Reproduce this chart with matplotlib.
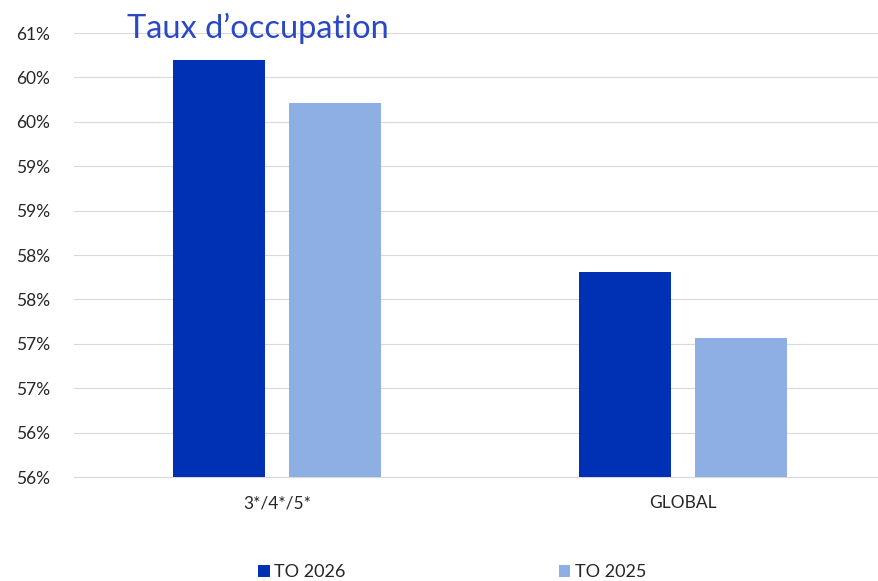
import matplotlib
matplotlib.use("Agg")
import matplotlib.pyplot as plt
import numpy as np
from matplotlib.ticker import FuncFormatter, MultipleLocator
import math

categories = ["3*/4*/5*", "GLOBAL"]
series_names = ["TO 2026", "TO 2025"]
to_2026 = [60.2, 57.81]
to_2025 = [59.71, 57.07]
colors = ["#0030B4", "#8DAFE3"]

plt.rcParams['font.family'] = ['Lato', 'DejaVu Sans']

fig = plt.figure(figsize=(8.79, 5.81), dpi=100)
ax = fig.add_axes([74/879, 1-477/581, (886-74)/879, (477-33)/581])

x = np.arange(len(categories))
w = 0.2266
off = 0.143
b1 = ax.bar(x - off, to_2026, width=w, color=colors[0], label=series_names[0], zorder=3)
b2 = ax.bar(x + off, to_2025, width=w, color=colors[1], label=series_names[1], zorder=3)

ax.set_ylim(55.5, 60.5)
ax.set_xlim(-0.5, 1.5)
ax.yaxis.set_major_locator(MultipleLocator(0.5))
ax.yaxis.set_major_formatter(FuncFormatter(lambda v, p: f"{math.floor(v + 0.5 + 1e-9):d}%"))
ax.grid(axis='y', color='#D9D9D9', linewidth=0.8, zorder=0)
for s in ['top', 'right', 'left']:
    ax.spines[s].set_visible(False)
ax.spines['bottom'].set_color('#D9D9D9')
ax.tick_params(axis='both', length=0, labelsize=12.5, colors='#262626')
ax.tick_params(axis='y', pad=17)
ax.tick_params(axis='x', pad=13)
ax.set_xticks(x)
ax.set_xticklabels(categories)

fig.text(127/879, 1-28/581, "Taux d\u2019occupation", fontsize=23.5, color='#2A48C4', va='center', ha='left')

fig.legend(handles=[b1, b2], labels=series_names, loc='center', bbox_to_anchor=(452/879, 1-572/581),
           ncol=2, frameon=False, fontsize=13, handlelength=0.65, handleheight=0.65,
           handletextpad=0.25, columnspacing=11.8, labelcolor='#262626')

fig.savefig("out.png", dpi=100)
